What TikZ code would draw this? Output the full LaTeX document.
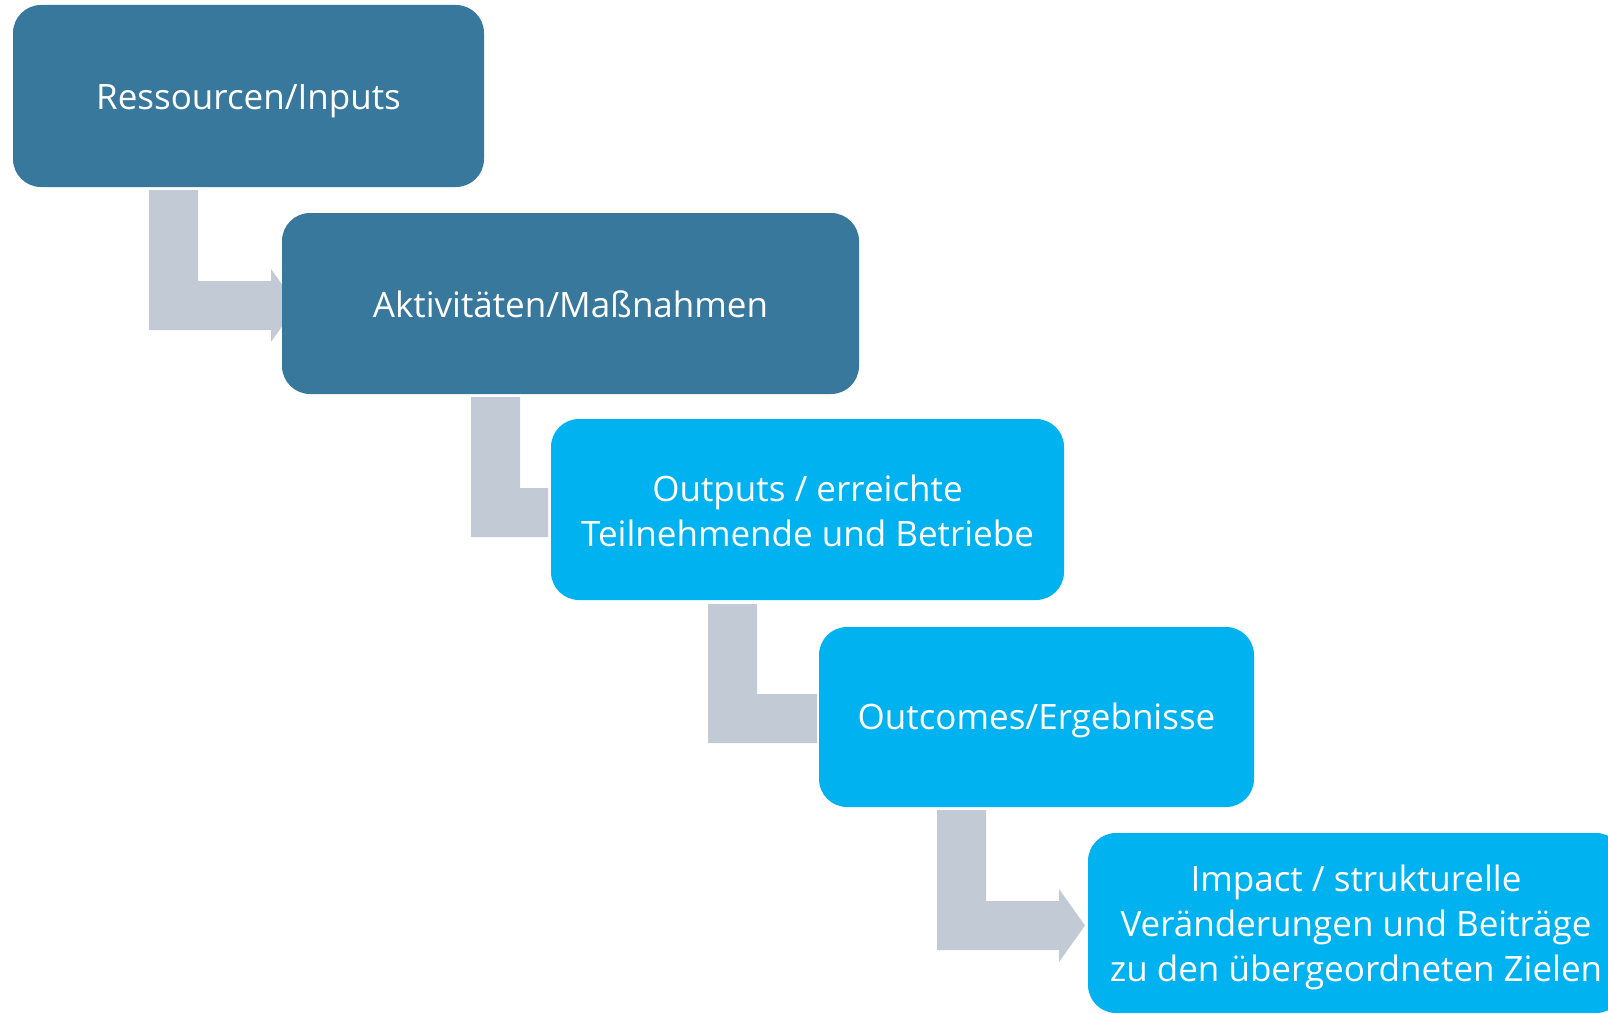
\documentclass[tikz,border=0pt]{standalone}
\usepackage{fontspec}
\setmainfont{Open Sans}
\definecolor{darkbox}{HTML}{38789C}
\definecolor{lightbox}{HTML}{00B2F0}
\definecolor{arrowgray}{HTML}{C2CBD5}
\tikzset{
  stagebox/.style={inner sep=0pt, text=white, align=center,
    font=\fontsize{35}{45}\selectfont},
  boxfill/.style={rounded corners=28pt},
  blockarrow/.style={fill=arrowgray, draw=none}
}
\begin{document}
\begin{tikzpicture}[x=1pt,y=-1pt]
\useasboundingbox (0,0) rectangle (1608,1014);
\clip (0,0) rectangle (1608,1014);
% block arrows (behind boxes)
\fill[blockarrow] (149,190) -- (198,190) -- (198,281) -- (271,281) -- (271,269) -- (297,305.5) -- (271,342) -- (271,330) -- (149,330) -- cycle;
\fill[blockarrow] (471,397) -- (520,397) -- (520,488) -- (548,488) -- (548,537) -- (471,537) -- cycle;
\fill[blockarrow] (708,604) -- (757,604) -- (757,694) -- (817,694) -- (817,743) -- (708,743) -- cycle;
\fill[blockarrow] (937,810) -- (986,810) -- (986,901) -- (1059,901) -- (1059,889) -- (1085,925.5) -- (1059,962) -- (1059,950) -- (937,950) -- cycle;
% boxes
\fill[darkbox, boxfill] (13,5) rectangle (484,187);
\node[stagebox] (b1) at (248.5,101) {Ressourcen/Inputs};
\fill[darkbox, boxfill] (282,213) rectangle (859,394);
\node[stagebox] (b2) at (570.5,304) {Aktivitäten/Maßnahmen};
\fill[lightbox, boxfill] (551,419) rectangle (1064,600);
\node[stagebox] (b3) at (807.5,510.5) {Outputs / erreichte\\Teilnehmende und Betriebe};
\fill[lightbox, boxfill] (819,627) rectangle (1254,807);
\node[stagebox] (b4) at (1036.5,720.5) {Outcomes/Ergebnisse};
\fill[lightbox, boxfill] (1088,833) rectangle (1624,1013);
\node[stagebox] (b5) at (1356,927) {Impact / strukturelle\\Veränderungen und Beiträge\\zu den übergeordneten Zielen};
\end{tikzpicture}
\end{document}
